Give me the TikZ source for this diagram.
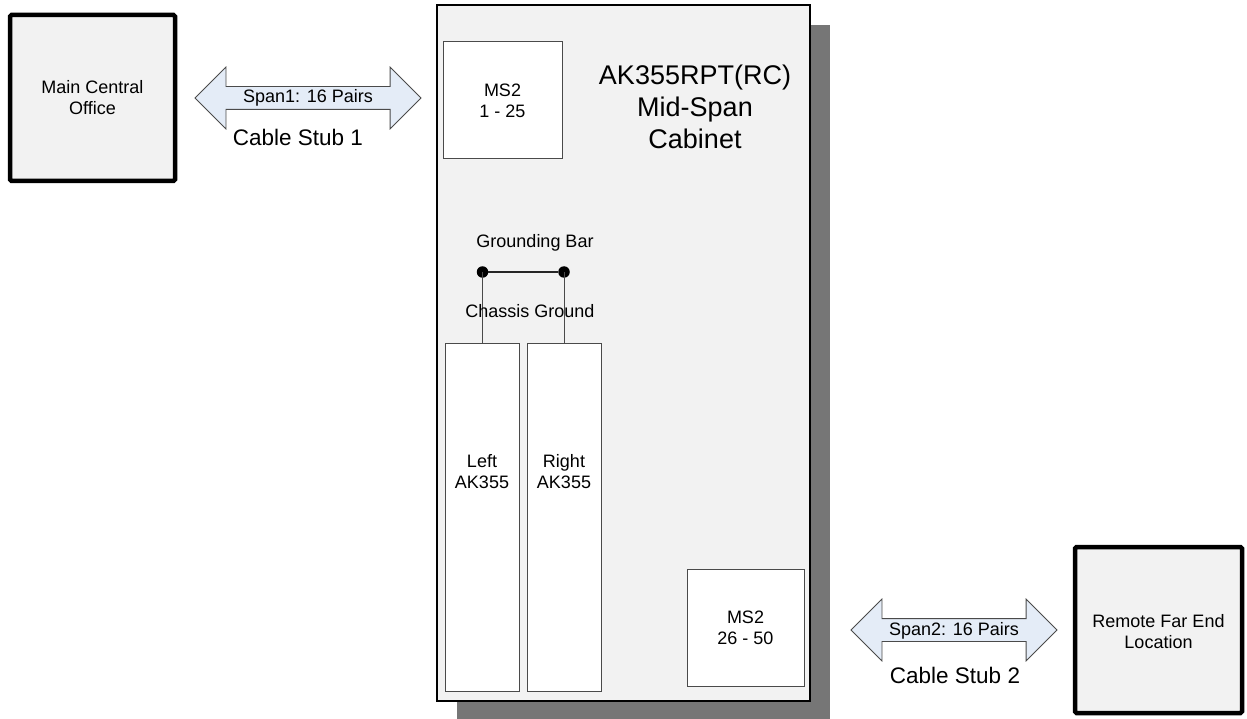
\documentclass[tikz,border=0pt]{standalone}
\usepackage{fontspec}
\setmainfont{Liberation Sans}
\usetikzlibrary{shapes.arrows}
\definecolor{boxfill}{HTML}{F2F2F2}
\definecolor{shadowgray}{HTML}{767676}
\definecolor{arrowfill}{HTML}{E4ECF7}
\definecolor{linegray}{HTML}{4A4A4A}
\tikzset{
  x=1pt, y=-1pt,
  site/.style={draw=black, line width=4.5pt, fill=boxfill, rounded corners=1.5pt, align=center,
    font=\fontsize{18}{21}\selectfont},
  inbox/.style={draw=linegray, line width=1pt, fill=white},
  lbl/.style={align=center, font=\fontsize{18}{21}\selectfont, inner sep=0pt},
  biglbl/.style={align=center, font=\fontsize{22.5}{26}\selectfont, inner sep=0pt},
  cable/.style={shape=double arrow, draw=linegray, line width=0.8pt, fill=arrowfill,
    double arrow head extend=19.5pt, double arrow tip angle=90, minimum width=61pt,
    text height=14pt, text depth=4pt, inner ysep=2pt, inner xsep=0pt,
    font=\fontsize{18}{21}\selectfont},
  dot/.style={circle, fill=black, inner sep=0pt, minimum size=11.5pt}
}
\begin{document}
\begin{tikzpicture}
\useasboundingbox (0,0) rectangle (1247,719);
% outer sites
\path[site] (10,15) rectangle (175,181);
\node[lbl] (mco) at (92.5,98) {Main Central\\Office};
\path[site] (1075,547) rectangle (1242,713);
\node[lbl] (rfe) at (1158.5,632) {Remote Far End\\Location};
% cabinet with shadow
\fill[shadowgray] (457,25) rectangle (830,719);
\draw[line width=2.5pt, fill=boxfill] (437,5) rectangle (810,701);
\node[font=\fontsize{27}{32}\selectfont, align=center, inner sep=0pt] (title) at (695,107) {AK355RPT(RC)\\Mid-Span\\Cabinet};
% MS2 blocks
\draw[inbox] (443,42) rectangle (562,159);
\node[lbl] (ms2a) at (502.5,101) {MS2\\1 - 25};
\draw[inbox] (687,569) rectangle (804,686);
\node[lbl] (ms2b) at (745.5,628) {MS2\\26 - 50};
% AK355 units
\draw[inbox] (445,343) rectangle (519,691);
\node[lbl] (left) at (482,472) {Left\\AK355};
\draw[inbox] (527,343) rectangle (601,691);
\node[lbl] (right) at (564,472) {Right\\AK355};
\coordinate (ltop) at (482.5,343);
\coordinate (rtop) at (564,343);
% grounding
\node[lbl] (gbar) at (535,243) {Grounding Bar};
\node[dot] (d1) at (482.5,272) {};
\node[dot] (d2) at (564,272) {};
\draw[black!85, line width=1.5pt] (d1) -- (d2);
\draw[linegray, line width=1pt] (d1.center) -- (ltop);
\draw[linegray, line width=1pt] (d2.center) -- (rtop);
\node[lbl] (cg) at (530,311) {Chassis Ground};
% cables
\node[cable, minimum height=226pt] (span1) at (308,98) {Span1: 16 Pairs};
\node[biglbl] (stub1) at (298,137) {Cable Stub 1};
\node[cable, minimum height=206pt] (span2) at (954,630) {Span2: 16 Pairs};
\node[biglbl] (stub2) at (955,675) {Cable Stub 2};
\end{tikzpicture}
\end{document}
